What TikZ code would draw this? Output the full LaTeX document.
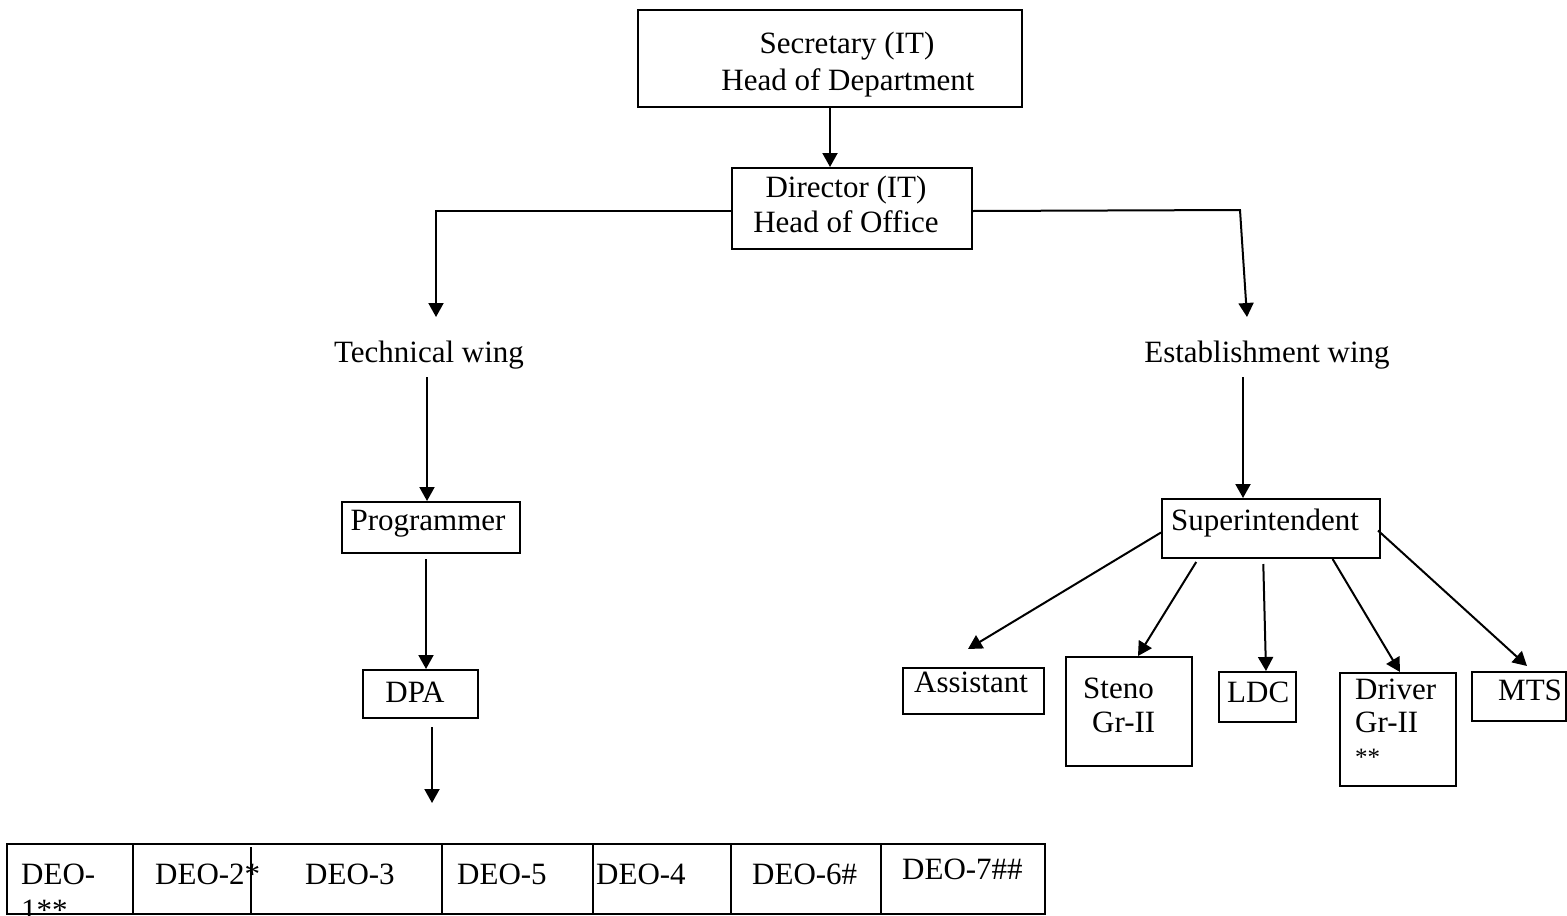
\documentclass[tikz,border=0pt]{standalone}
\usepackage{fontspec}
\setmainfont{Liberation Serif}
\usetikzlibrary{arrows.meta,calc}
\begin{document}
\begin{tikzpicture}[x=1pt,y=-1pt,
  box/.style={draw, line width=2pt, inner sep=0pt, rectangle},
  lbl/.style={inner sep=0pt, font=\fontsize{31}{36}\selectfont},
  small/.style={inner sep=0pt, font=\fontsize{25}{30}\selectfont},
  arr/.style={line width=2pt, -{Triangle[length=14pt,width=15pt]}},
  ln/.style={line width=2pt}]
\useasboundingbox (0,0) rectangle (1567,916);
% boxes
\node[box, minimum width=384pt, minimum height=97pt] (sec) at (830,58.5) {};
\node[box, minimum width=240pt, minimum height=81pt] (dir) at (852,208.5) {};
\node[box, minimum width=178pt, minimum height=51pt] (prog) at (431,527.5) {};
\node[box, minimum width=115pt, minimum height=48pt] (dpa) at (420.5,694) {};
\node[box, minimum width=218pt, minimum height=59pt] (sup) at (1271,528.5) {};
\node[box, minimum width=141pt, minimum height=46pt] (asst) at (973.5,691) {};
\node[box, minimum width=126pt, minimum height=109pt] (steno) at (1129,711.5) {};
\node[box, minimum width=77pt, minimum height=50pt] (ldc) at (1257.5,697) {};
\node[box, minimum width=116pt, minimum height=113pt] (drv) at (1398,729.5) {};
\node[box, minimum width=94pt, minimum height=49pt] (mts) at (1519,696.5) {};
\node[box, minimum width=1038pt, minimum height=70pt] (deorow) at (526,879) {};
% table dividers
\draw[ln] (133,844) -- (133,914);
\draw[line width=1.3pt] (251,847) -- (251,914);
\draw[ln] (442,844) -- (442,914);
\draw[ln] (593,844) -- (593,914);
\draw[ln] (731,844) -- (731,914);
\draw[ln] (881,844) -- (881,914);
% labels
\node[lbl, anchor=base] (secA) at (847,53) {Secretary (IT)};
\node[lbl, anchor=base] (secB) at (848,90) {Head of Department};
\node[lbl, anchor=base] (dirA) at (846,197) {Director (IT)};
\node[lbl, anchor=base] (dirB) at (846,232) {Head of Office};
\node[lbl, anchor=base] (tw) at (429,362) {Technical wing};
\node[lbl, anchor=base] (ew) at (1267,362) {Establishment wing};
\node[lbl, anchor=base] (progT) at (428,530) {Programmer};
\node[lbl, anchor=base] (dpaT) at (415,702) {DPA};
\node[lbl, anchor=base west] (supT) at (1171,530) {Superintendent};
\node[lbl, anchor=base west] (asstT) at (914,692) {Assistant};
\node[lbl, anchor=base west] (stenoA) at (1083,698) {Steno};
\node[lbl, anchor=base west] (stenoB) at (1092,732) {Gr-II};
\node[lbl, anchor=base west] (ldcT) at (1227,702) {LDC};
\node[lbl, anchor=base west] (drvA) at (1355,699) {Driver};
\node[lbl, anchor=base west] (drvB) at (1355,732) {Gr-II};
\node[small, anchor=base west] (drvC) at (1355,765) {**};
\node[lbl, anchor=base west] (mtsT) at (1498,700) {MTS};
\node[lbl, anchor=base west] (d1a) at (21,884) {DEO-};
\node[lbl, anchor=base west] (d1b) at (21,920) {1**};
\node[lbl, anchor=base west] (d2) at (155,884) {DEO-2*};
\node[lbl, anchor=base west] (d3) at (305,884) {DEO-3};
\node[lbl, anchor=base west] (d5) at (457,884) {DEO-5};
\node[lbl, anchor=base west] (d4) at (596,884) {DEO-4};
\node[lbl, anchor=base west] (d6) at (752,884) {DEO-6\#};
\node[lbl, anchor=base west] (d7) at (902,879) {DEO-7\#\#};
% coordinates
\coordinate (lc) at (436,211);
\coordinate (ltip) at (436,317);
\coordinate (rc) at (1240,210);
\coordinate (rtip) at (1247,317);
\coordinate (tws) at (427,377);
\coordinate (ews) at (1243,377);
\coordinate (dpatip) at (432,803);
\coordinate (asTip) at (968,649);
\coordinate (stTip) at (1138,656);
% connectors
\draw[arr] (sec.south) -- (sec.south |- dir.north);
\draw[arr] (dir.west |- lc) -- (lc) -- (ltip);
\draw[arr] (dir.east |- lc) -- (rc) -- (rtip);
\draw[arr] (tws) -- (tws |- prog.north);
\draw[arr] (ews) -- (ews |- sup.north);
\draw[arr] ($(prog.south)+(-5,5)$) -- ($(dpa.north)+(5.5,0)$);
\draw[arr] ($(dpa.south)+(11.5,8)$) -- (dpatip);
\draw[arr] ($(sup.west)+(0,4)$) -- (asTip);
\draw[arr] ($(sup.south west)!0.16!(sup.south east)+(0,3)$) -- (stTip);
\draw[arr] ($(sup.south west)!0.465!(sup.south east)+(0,5)$) -- ($(ldc.north)+(8.5,0)$);
\draw[arr] ($(sup.south west)!0.78!(sup.south east)$) -- ($(drv.north)+(2,0)$);
\draw[arr] ($(sup.east)+(-3,2)$) -- ($(mts.north)+(8,-5)$);
\end{tikzpicture}
\end{document}
